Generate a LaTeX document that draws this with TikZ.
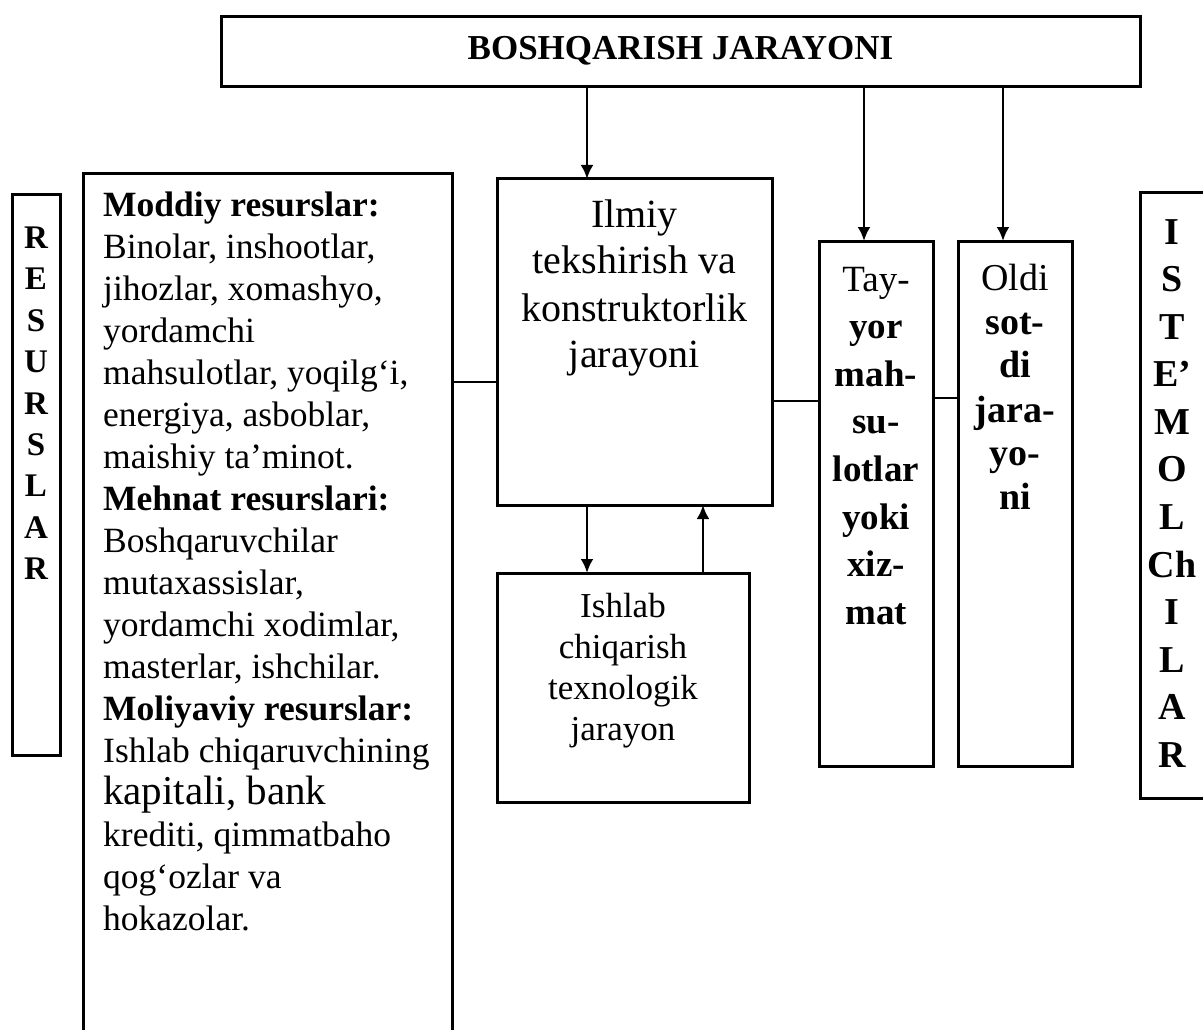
\documentclass[tikz,border=0pt]{standalone}
\usepackage{fontspec}
\setmainfont{Liberation Serif}
\usetikzlibrary{arrows.meta}
\begin{document}
\begin{tikzpicture}[x=1pt,y=-1pt,
  boxst/.style={draw, line width=3pt, inner sep=0pt, outer sep=0pt, anchor=north west},
  conn/.style={line width=2.8pt},
  arr/.style={line width=2.8pt, -{Latex[length=14pt,width=13pt]}},
  txt/.style={inner sep=0pt, outer sep=0pt, anchor=base}
]
\useasboundingbox (0,0) rectangle (1203,1030);
\fill[white] (0,0) rectangle (1203,1030);

% boxes
\node[boxst, minimum width=919pt, minimum height=70pt] (boss) at (221,17) {};
\node[boxst, minimum width=369pt, minimum height=900pt] (resbox) at (83,174) {};
\node[boxst, minimum width=48pt, minimum height=560pt] (resl) at (12,195) {};
\node[boxst, minimum width=275pt, minimum height=326pt] (ilmiy) at (497,179) {};
\node[boxst, minimum width=252pt, minimum height=229pt] (ishlab) at (497,573) {};
\node[boxst, minimum width=114pt, minimum height=525pt] (tayyor) at (819,241) {};
\node[boxst, minimum width=114pt, minimum height=525pt] (oldi) at (958,241) {};
\node[boxst, minimum width=90pt, minimum height=605pt] (iste) at (1140,193) {};

% helper coordinates
\coordinate (a1) at (587,0);
\coordinate (a2) at (864,0);
\coordinate (a3) at (1003,0);
\coordinate (ad) at (587,0);
\coordinate (au) at (703,0);
\coordinate (c1) at (0,382);
\coordinate (c2) at (0,401);
\coordinate (c3) at (0,398);

% connectors
\draw[arr] (boss.south -| a1) -- (ilmiy.north -| a1);
\draw[arr] (boss.south -| a2) -- (tayyor.north -| a2);
\draw[arr] (boss.south -| a3) -- (oldi.north -| a3);
\draw[arr] (ilmiy.south -| ad) -- (ishlab.north -| ad);
\draw[arr] (ishlab.north -| au) -- (ilmiy.south -| au);
\draw[conn] (resbox.east |- c1) -- (ilmiy.west |- c1);
\draw[conn] (ilmiy.east |- c2) -- (tayyor.west |- c2);
\draw[conn] (tayyor.east |- c3) -- (oldi.west |- c3);

% texts
\node[txt, font=\bfseries\fontsize{35}{42}\selectfont] (title) at (680.5,60) {BOSHQARISH JARAYONI};

\node[inner sep=0pt, anchor=base west] (restxt) at (103,217) {\parbox[t]{345pt}{\raggedright\fontsize{35.5}{42}\selectfont
\textbf{Moddiy resurslar:}\\
Binolar, inshootlar,\\
jihozlar, xomashyo,\\
yordamchi\\
mahsulotlar, yoqilg‘i,\\
energiya, asboblar,\\
maishiy ta’minot.\\
\textbf{Mehnat resurslari:}\\
Boshqaruvchilar\\
mutaxassislar,\\
yordamchi xodimlar,\\
masterlar, ishchilar.\\
\textbf{Moliyaviy resurslar:}\\
Ishlab chiqaruvchining\\
{\fontsize{41}{42}\selectfont kapitali, bank}\\
krediti, qimmatbaho\\
qog‘ozlar va\\
hokazolar.}};

\node[txt] (restitle) at (36,248) {\parbox[t]{46pt}{\centering\bfseries\fontsize{33}{41.5}\selectfont R\\E\\S\\U\\R\\S\\L\\A\\R}};

\node[txt] (istetxt) at (1172,244) {\parbox[t]{60pt}{\centering\bfseries\fontsize{38}{47.6}\selectfont I\\S\\T\\E'\\M\\O\\L\\Ch\\I\\L\\A\\R}};

\node[txt] (ilmiytxt) at (634.5,227) {\parbox[t]{270pt}{\centering\fontsize{40}{47}\selectfont Ilmiy\\tekshirish va\\konstruktorlik\\jarayoni}};

\node[txt] (tayyortxt) at (876,291) {\parbox[t]{112pt}{\centering\fontsize{37}{47.6}\selectfont Tay-\\\textbf{yor}\\\textbf{mah-}\\\textbf{su-}\\\textbf{lotlar}\\\textbf{yoki}\\\textbf{xiz-}\\\textbf{mat}}};

\node[txt] (olditxt) at (1015,290) {\parbox[t]{112pt}{\centering\fontsize{38}{44}\selectfont Oldi\\\textbf{sot-}\\\textbf{di}\\\textbf{jara-}\\\textbf{yo-}\\\textbf{ni}}};

\node[txt] (ishlabtxt) at (623,617) {\parbox[t]{250pt}{\centering\fontsize{35}{41}\selectfont Ishlab\\chiqarish\\texnologik\\jarayon}};
\end{tikzpicture}
\end{document}
